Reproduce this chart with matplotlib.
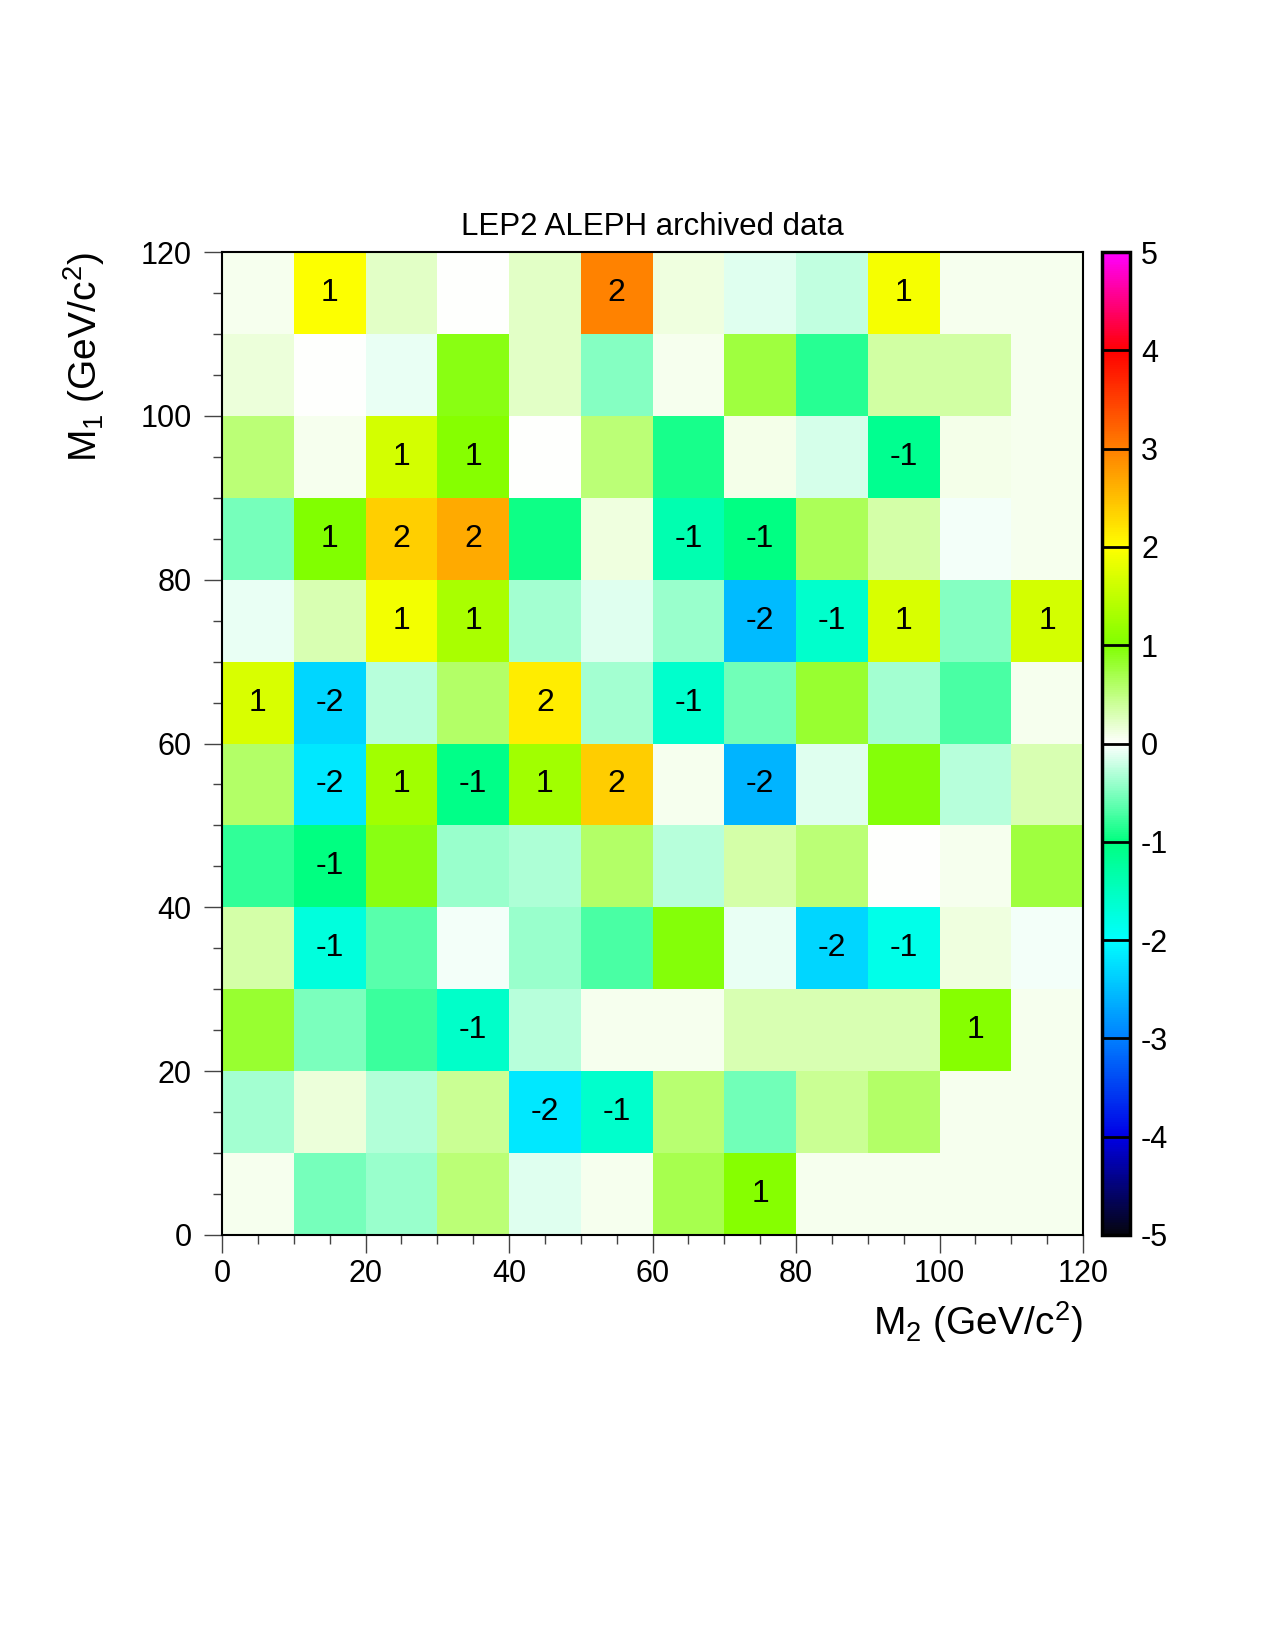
import numpy as np
import matplotlib
matplotlib.use("Agg")
import matplotlib.pyplot as plt
from matplotlib.colors import LinearSegmentedColormap
from matplotlib.ticker import MultipleLocator

plt.rcParams['font.family'] = ['Liberation Sans', 'DejaVu Sans']
plt.rcParams['mathtext.fontset'] = 'custom'
plt.rcParams['mathtext.rm'] = 'Liberation Sans'
plt.rcParams['axes.unicode_minus'] = False

# bin edges (GeV/c^2)
m2_edges = np.arange(0, 121, 10)
m1_edges = np.arange(0, 121, 10)

# cell values, rows listed from top (M1 110-120) down to bottom (M1 0-10)
rows_top_down = [
    [0.06, 1.99, 0.22, 0.00, 0.22, 2.97, 0.12, -0.12, -0.25, 1.92, 0.06, 0.06],
    [0.15, 0.00, -0.09, 0.92, 0.22, -0.47, 0.06, 0.75, -0.84, 0.37, 0.37, 0.06],
    [0.53, 0.06, 1.66, 1.05, 0.00, 0.53, -0.91, 0.09, -0.17, -1.13, 0.09, 0.06],
    [-0.53, 1.01, 2.37, 2.67, -0.94, 0.12, -1.38, -1.02, 0.65, 0.34, -0.04, 0.06],
    [-0.09, 0.30, 1.91, 1.31, -0.36, -0.12, -0.40, -2.53, -1.60, 1.69, -0.47, 1.66],
    [1.69, -2.31, -0.29, 0.59, 2.13, -0.36, -1.60, -0.56, 0.81, -0.36, -0.72, 0.06],
    [0.60, -2.18, 1.25, -1.06, 1.25, 2.40, 0.06, -2.59, -0.12, 0.97, -0.29, 0.30],
    [-0.81, -1.01, 0.93, -0.40, -0.33, 0.60, -0.29, 0.34, 0.53, 0.00, 0.06, 0.75],
    [0.34, -1.72, -0.65, -0.04, -0.40, -0.72, 0.97, -0.09, -2.31, -1.82, 0.12, -0.04],
    [0.81, -0.51, -0.78, -1.57, -0.29, 0.06, 0.06, 0.30, 0.30, 0.30, 1.05, 0.06],
    [-0.36, 0.15, -0.31, 0.42, -2.18, -1.60, 0.56, -0.55, 0.42, 0.59, 0.06, 0.06],
    [0.06, -0.53, -0.40, 0.53, -0.12, 0.06, 0.69, 1.05, 0.06, 0.06, 0.06, 0.06],
]
values = np.flipud(np.array(rows_top_down))

# palette anchors
pal_levels = [-5, -4, -3, -2, -1, 0, 1, 2, 3, 4, 5]
pal_colors = ["#05050f", "#0000e6", "#0080ff", "#00ffff", "#00ff80", "#ffffff",
              "#80ff00", "#ffff00", "#ff8000", "#ff0000", "#ff00ff"]
cmap = LinearSegmentedColormap.from_list(
    "aleph", [((v + 5) / 10, c) for v, c in zip(pal_levels, pal_colors)], N=512)

fig = plt.figure(figsize=(12.75, 16.5), dpi=100)
ax = fig.add_axes([222 / 1275, 1 - 1235 / 1650, 861 / 1275, 983 / 1650])
cax = fig.add_axes([1102 / 1275, 1 - 1235 / 1650, 28 / 1275, 983 / 1650])

mesh = ax.pcolormesh(m2_edges, m1_edges, values, cmap=cmap, vmin=-5, vmax=5,
                     shading="flat", edgecolors="none")

# bin content printed as truncated integer, zero suppressed
xc = 0.5 * (m2_edges[:-1] + m2_edges[1:])
yc = 0.5 * (m1_edges[:-1] + m1_edges[1:])
for i, y in enumerate(yc):
    for j, x in enumerate(xc):
        n = int(np.trunc(values[i, j]))
        if n != 0:
            ax.text(x, y, str(n), ha="center", va="center", fontsize=23)

ax.set_xlim(0, 120)
ax.set_ylim(0, 120)
ax.xaxis.set_major_locator(MultipleLocator(20))
ax.xaxis.set_minor_locator(MultipleLocator(5))
ax.yaxis.set_major_locator(MultipleLocator(20))
ax.yaxis.set_minor_locator(MultipleLocator(5))
ax.tick_params(which="both", direction="out", width=1, color="#444444", labelsize=22)
ax.tick_params(which="major", length=13)
ax.tick_params(which="minor", length=6.5)
ax.tick_params(axis="x", which="major", pad=4)
ax.tick_params(axis="y", which="major", pad=9)
for s in ax.spines.values():
    s.set_linewidth(1.5)

fig.text(652 / 1275, 1 - 235 / 1650, "LEP2 ALEPH archived data",
         ha="center", va="baseline", fontsize=22.5)
fig.text(1083 / 1275, 1 - 1335 / 1650, r"M$_{2}$ (GeV/c$^{2}$)",
         ha="right", va="baseline", fontsize=28)
fig.text(84 / 1275, 1 - 252 / 1650, r"M$_{1}$ (GeV/c$^{2}$)",
         ha="center", va="top", rotation=90, fontsize=28)

cb = fig.colorbar(mesh, cax=cax, ticks=pal_levels)
cb.ax.tick_params(length=0, labelsize=22, pad=8)
cb.outline.set_linewidth(2.5)
for v in pal_levels[1:-1]:
    cax.axhline(v, color="black", lw=2)

fig.savefig("out.png", dpi=100)
